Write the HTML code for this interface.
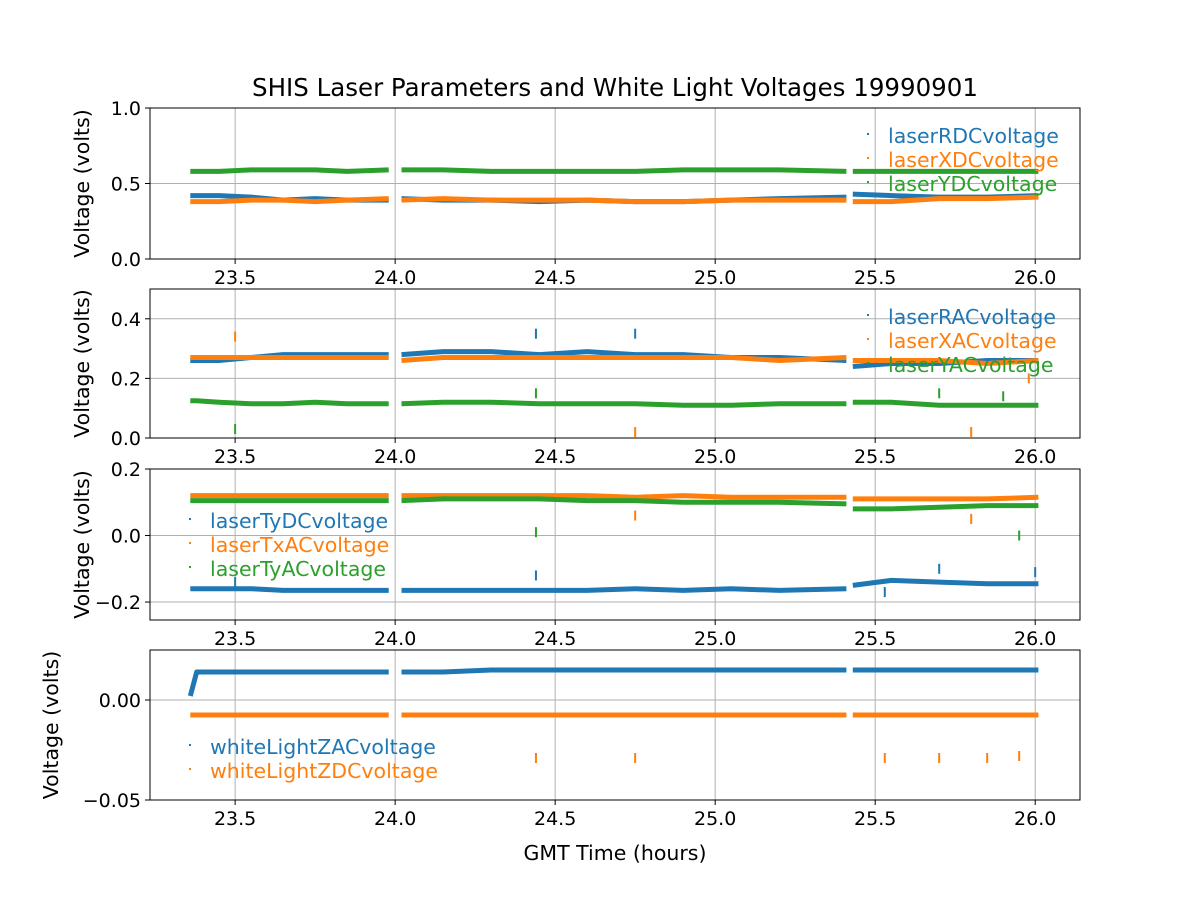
<!DOCTYPE html>
<html><head><meta charset="utf-8"><style>
body{margin:0;background:#fff}
text{font-family:"DejaVu Sans","Liberation Sans",sans-serif;fill:#000}
</style></head><body>
<svg id="chart" width="1200" height="900" viewBox="0 0 1200 900" xmlns="http://www.w3.org/2000/svg">
<rect width="1200" height="900" fill="#fff"/>
<text x="615" y="96" font-size="24.5" text-anchor="middle">SHIS Laser Parameters and White Light Voltages 19990901</text>
<text x="615" y="860" font-size="20.5" text-anchor="middle">GMT Time (hours)</text>
</svg>
<script>
const times=[23.36,23.38,23.45,23.55,23.65,23.75,23.85,23.98,null,24.02,24.15,24.3,24.45,24.6,24.75,24.9,25.05,25.2,25.41,null,25.43,25.55,25.7,25.85,26.01];
const xTicks=[23.5,24.0,24.5,25.0,25.5,26.0];
const rdc=[0.42,0.42,0.42,0.41,0.39,0.40,0.39,0.39,null,0.40,0.39,0.39,0.38,0.39,0.38,0.38,0.39,0.40,0.41,null,0.43,0.42,0.41,0.41,0.42];
const xdc=[0.38,0.38,0.38,0.39,0.39,0.38,0.39,0.40,null,0.39,0.40,0.39,0.39,0.39,0.38,0.38,0.39,0.39,0.39,null,0.38,0.38,0.40,0.40,0.41];
const ydc=[0.58,0.58,0.58,0.59,0.59,0.59,0.58,0.59,null,0.59,0.59,0.58,0.58,0.58,0.58,0.59,0.59,0.59,0.58,null,0.58,0.58,0.58,0.58,0.58];
const rac=[0.26,0.26,0.26,0.27,0.28,0.28,0.28,0.28,null,0.28,0.29,0.29,0.28,0.29,0.28,0.28,0.27,0.27,0.26,null,0.24,0.25,0.25,0.26,0.26];
const xac=[0.27,0.27,0.27,0.27,0.27,0.27,0.27,0.27,null,0.26,0.27,0.27,0.27,0.27,0.27,0.27,0.27,0.26,0.27,null,0.26,0.26,0.26,0.25,0.26];
const yac=[0.125,0.125,0.12,0.115,0.115,0.12,0.115,0.115,null,0.115,0.12,0.12,0.115,0.115,0.115,0.11,0.11,0.115,0.115,null,0.12,0.12,0.11,0.11,0.11];
const tydc=[-0.16,-0.16,-0.16,-0.16,-0.165,-0.165,-0.165,-0.165,null,-0.165,-0.165,-0.165,-0.165,-0.165,-0.16,-0.165,-0.16,-0.165,-0.16,null,-0.15,-0.135,-0.14,-0.145,-0.145];
const txac=[0.12,0.12,0.12,0.12,0.12,0.12,0.12,0.12,null,0.12,0.12,0.12,0.12,0.12,0.115,0.12,0.115,0.115,0.115,null,0.11,0.11,0.11,0.11,0.115];
const tyac=[0.105,0.105,0.105,0.105,0.105,0.105,0.105,0.105,null,0.105,0.11,0.11,0.11,0.105,0.105,0.1,0.1,0.1,0.095,null,0.08,0.08,0.085,0.09,0.09];
const zac=[0.002,0.014,0.014,0.014,0.014,0.014,0.014,0.014,null,0.014,0.014,0.015,0.015,0.015,0.015,0.015,0.015,0.015,0.015,null,0.015,0.015,0.015,0.015,0.015];
const zdc=[-0.0075,-0.0075,-0.0075,-0.0075,-0.0075,-0.0075,-0.0075,-0.0075,null,-0.0075,-0.0075,-0.0075,-0.0075,-0.0075,-0.0075,-0.0075,-0.0075,-0.0075,-0.0075,null,-0.0075,-0.0075,-0.0075,-0.0075,-0.0075];
const out2=[[23.5,0.34,1],[23.5,0.03,2],[24.44,0.35,0],[24.44,0.15,2],[24.75,0.35,0],[24.75,0.02,1],[25.7,0.15,2],[25.8,0.02,1],[25.9,0.14,2],[25.98,0.2,1]];
const out3=[[23.5,-0.14,0],[24.44,-0.12,0],[24.44,0.01,2],[24.75,0.06,1],[25.53,-0.17,0],[25.7,-0.1,0],[25.8,0.05,1],[25.95,0.0,2],[26.0,-0.11,0]];
const out4=[[24.44,-0.029,1],[24.75,-0.029,1],[25.53,-0.029,1],[25.7,-0.029,1],[25.85,-0.029,1],[25.95,-0.028,1]];
const colors=["#1f77b4","#ff7f0e","#2ca02c"];
const NS="http://www.w3.org/2000/svg";
const svg=document.getElementById('chart');
const X0=150,X1=1080,T0=23.234,T1=26.14;
function xs(t){return X0+(t-T0)/(T1-T0)*(X1-X0);}
function mk(tag,attrs,parent){const e=document.createElementNS(NS,tag);for(const k in attrs)e.setAttribute(k,attrs[k]);(parent||svg).appendChild(e);return e;}
const panels=[
 {top:108,bot:259,min:0,max:1,ticks:[0,0.5,1.0],lab:["0.0","0.5","1.0"],series:[rdc,xdc,ydc],names:["laserRDCvoltage","laserXDCvoltage","laserYDCvoltage"],leg:[868,136],out:[]},
 {top:289,bot:438,min:0,max:0.5,ticks:[0,0.2,0.4],lab:["0.0","0.2","0.4"],series:[rac,xac,yac],names:["laserRACvoltage","laserXACvoltage","laserYACvoltage"],leg:[868,317],out:out2},
 {top:469,bot:620,min:-0.254,max:0.2,ticks:[-0.2,0,0.2],lab:["\u22120.2","0.0","0.2"],series:[tydc,txac,tyac],names:["laserTyDCvoltage","laserTxACvoltage","laserTyACvoltage"],leg:[190,521],out:out3},
 {top:650,bot:800,min:-0.05,max:0.025,ticks:[-0.05,0],lab:["\u22120.05","0.00"],series:[zac,zdc],names:["whiteLightZACvoltage","whiteLightZDCvoltage"],leg:[190,747],out:out4}
];
panels.forEach((p,pi)=>{
 const g=mk('g',{});
 
 
 const ys=v=>p.bot-(v-p.min)/(p.max-p.min)*(p.bot-p.top);
 xTicks.forEach(t=>{const l=mk('line',{x1:xs(t),x2:xs(t),y1:p.top,y2:p.bot,stroke:'#b0b0b0','stroke-width':1},g);
  
  mk('line',{x1:xs(t),x2:xs(t),y1:p.bot,y2:p.bot+5,stroke:'#000'},g);
  const tx=mk('text',{x:xs(t),y:p.bot+25,'font-size':19,'text-anchor':'middle'},g);tx.textContent=t.toFixed(1);
  });
 p.ticks.forEach((v,i)=>{const y=ys(v);
  const l=mk('line',{x1:X0,x2:X1,y1:y,y2:y,stroke:'#b0b0b0','stroke-width':1},g);
  
  mk('line',{x1:X0-5,x2:X0,y1:y,y2:y,stroke:'#000'},g);
  const tx=mk('text',{x:X0-9,y:y+7,'font-size':19,'text-anchor':'end'},g);tx.textContent=p.lab[i];
  });
 p.series.forEach((s,si)=>{let d='',pen=false;
  s.forEach((v,i)=>{if(v===null||times[i]===null){pen=false;return;}d+=(pen?'L':'M')+xs(times[i]).toFixed(1)+' '+ys(v).toFixed(1);pen=true;});
  const path=mk('path',{d:d,fill:'none',stroke:colors[si],'stroke-width':5,'stroke-linejoin':'round'},g);
  });
 p.out.forEach(o=>{const r=mk('rect',{x:xs(o[0])-1,y:ys(o[1])-5,width:2,height:10,fill:colors[o[2]]},g);
  });
 const fr=mk('rect',{x:X0,y:p.top,width:X1-X0,height:p.bot-p.top,fill:'none',stroke:'#000','stroke-width':1},g);
 
 const yl=mk('text',{x:0,y:0,'font-size':20.5,'text-anchor':'middle',transform:`translate(${pi==3?58:89},${(p.top+p.bot)/2}) rotate(-90)`},g);
 yl.textContent='Voltage (volts)';
 p.names.forEach((n,i)=>{const lx=p.leg[0],ly=p.leg[1]+i*24;
  const m=mk('rect',{x:lx-1,y:ly-3,width:2,height:2,fill:colors[i]},g);
  
  const t=mk('text',{x:lx+20,y:ly+7,'font-size':20.5,fill:colors[i]},g);t.textContent=n;t.style.fill=colors[i];
  });
});
</script>
</body></html>
